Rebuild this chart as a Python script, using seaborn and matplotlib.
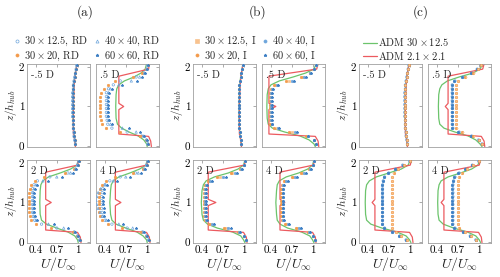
import matplotlib
matplotlib.use("Agg")
import matplotlib.pyplot as plt
import seaborn as sns
from matplotlib.lines import Line2D

sns.set_theme(style="white")
plt.rcParams["mathtext.fontset"] = "cm"
plt.rcParams["font.family"] = ["cmr10", "DejaVu Serif"]
plt.rcParams["axes.formatter.use_mathtext"] = True

# marker heights (z/h_hub), bottom to top
Y21 = [0.05, 0.15, 0.25, 0.35, 0.45, 0.55, 0.65, 0.75, 0.85, 0.95, 1.05,
       1.15, 1.25, 1.35, 1.45, 1.55, 1.65, 1.75, 1.85, 1.95, 2.05]
# line heights
RY = [2.08, 1.95, 1.77, 1.08, 1.00, 0.92, 0.30, 0.24, 0.12, -0.02]
GY = [2.08, 1.95, 1.85, 1.75, 1.65, 1.55, 1.45, 1.30, 1.00, 0.70, 0.55,
      0.45, 0.35, 0.25, 0.15, 0.05, -0.02]

# -.5 D (same in every group)
m05 = [0.97, 0.96, 0.95, 0.95, 0.94, 0.94, 0.94, 0.93, 0.93, 0.93, 0.93,
       0.93, 0.93, 0.93, 0.94, 0.94, 0.95, 0.96, 0.97, 0.98, 0.99]
m05_red = [0.99, 0.98, 0.96, 0.94, 0.94, 0.94, 0.94, 0.95, 0.96, 0.97]
m05_grn = [0.99, 0.98, 0.97, 0.96, 0.95, 0.95, 0.94, 0.94, 0.935, 0.935, 0.94,
           0.94, 0.945, 0.95, 0.96, 0.965, 0.97]

# (a) RD
a_p05_1 = [1.02, 1.00, 0.93, 0.72, 0.50, 0.44, 0.43, 0.42, 0.42, 0.42, 0.42, 0.42, 0.42, 0.42, 0.45, 0.52, 0.62, 0.85, 0.96, 1.00, 1.02]
a_p05_2 = [1.02, 0.99, 0.90, 0.62, 0.42, 0.36, 0.34, 0.33, 0.33, 0.33, 0.33, 0.33, 0.33, 0.34, 0.38, 0.45, 0.55, 0.80, 0.94, 0.99, 1.02]
a_p05_3 = [1.02, 1.00, 0.96, 0.85, 0.65, 0.48, 0.45, 0.44, 0.44, 0.44, 0.44, 0.44, 0.44, 0.45, 0.48, 0.60, 0.78, 0.90, 0.97, 1.00, 1.02]
a_p05_4 = [1.02, 1.01, 0.97, 0.90, 0.75, 0.50, 0.46, 0.45, 0.45, 0.45, 0.45, 0.45, 0.45, 0.46, 0.50, 0.65, 0.86, 0.93, 0.98, 1.00, 1.02]
a_p05_red = [1.04, 1.03, 0.60, 0.60, 0.67, 0.60, 0.60, 1.03, 1.06, 1.07]
a_p05_grn = [1.00, 0.98, 0.92, 0.82, 0.68, 0.60, 0.57, 0.56, 0.555, 0.56, 0.58, 0.64, 0.75, 0.88, 0.96, 1.00, 1.01]

a_2d_1 = [1.03, 1.00, 0.95, 0.70, 0.48, 0.38, 0.36, 0.35, 0.35, 0.35, 0.35, 0.35, 0.35, 0.35, 0.37, 0.42, 0.60, 0.86, 0.97, 1.00, 1.02]
a_2d_2 = [1.03, 0.99, 0.93, 0.62, 0.40, 0.33, 0.31, 0.30, 0.30, 0.30, 0.30, 0.30, 0.30, 0.31, 0.33, 0.38, 0.52, 0.82, 0.95, 1.00, 1.02]
a_2d_3 = [1.03, 1.00, 0.96, 0.80, 0.58, 0.40, 0.37, 0.36, 0.36, 0.36, 0.36, 0.36, 0.36, 0.37, 0.40, 0.50, 0.70, 0.90, 0.97, 1.00, 1.02]
a_2d_4 = [1.03, 1.01, 0.97, 0.86, 0.66, 0.42, 0.38, 0.37, 0.37, 0.37, 0.37, 0.37, 0.37, 0.38, 0.42, 0.58, 0.77, 0.93, 0.98, 1.00, 1.02]
a_2d_red = [1.01, 1.00, 0.54, 0.54, 0.62, 0.54, 0.54, 1.00, 1.04, 1.05]
a_2d_grn = [1.01, 0.99, 0.90, 0.75, 0.58, 0.50, 0.47, 0.46, 0.455, 0.46, 0.48, 0.55, 0.70, 0.86, 0.96, 1.00, 1.01]

a_4d_1 = [1.03, 1.00, 0.94, 0.72, 0.50, 0.40, 0.37, 0.36, 0.35, 0.35, 0.35, 0.35, 0.36, 0.37, 0.40, 0.47, 0.62, 0.84, 0.96, 1.00, 1.02]
a_4d_2 = [1.03, 0.99, 0.92, 0.65, 0.44, 0.36, 0.33, 0.32, 0.32, 0.31, 0.31, 0.32, 0.32, 0.33, 0.36, 0.42, 0.55, 0.80, 0.95, 1.00, 1.02]
a_4d_3 = [1.03, 1.00, 0.95, 0.80, 0.60, 0.42, 0.36, 0.33, 0.30, 0.28, 0.27, 0.28, 0.30, 0.34, 0.40, 0.52, 0.70, 0.88, 0.97, 1.00, 1.02]
a_4d_4 = [1.03, 1.01, 0.97, 0.85, 0.66, 0.44, 0.39, 0.38, 0.38, 0.37, 0.37, 0.37, 0.38, 0.39, 0.43, 0.58, 0.76, 0.92, 0.98, 1.00, 1.02]
a_4d_red = [1.02, 1.00, 0.55, 0.55, 0.63, 0.55, 0.55, 1.00, 1.04, 1.05]
a_4d_grn = [1.01, 0.99, 0.90, 0.76, 0.60, 0.52, 0.49, 0.48, 0.47, 0.48, 0.50, 0.56, 0.70, 0.86, 0.95, 1.00, 1.01]

# (b) I
b_p05_1 = [1.05, 1.02, 0.92, 0.70, 0.48, 0.40, 0.39, 0.39, 0.39, 0.39, 0.39, 0.39, 0.39, 0.39, 0.41, 0.46, 0.66, 0.86, 0.97, 1.02, 1.05]
b_p05_2 = [1.05, 1.02, 0.90, 0.66, 0.45, 0.39, 0.38, 0.38, 0.38, 0.38, 0.38, 0.38, 0.38, 0.38, 0.40, 0.44, 0.62, 0.84, 0.96, 1.02, 1.05]
b_p05_3 = [1.05, 1.02, 0.93, 0.74, 0.50, 0.41, 0.40, 0.40, 0.40, 0.40, 0.40, 0.40, 0.40, 0.40, 0.42, 0.48, 0.70, 0.88, 0.97, 1.02, 1.05]
b_p05_4 = [1.05, 1.02, 0.94, 0.78, 0.52, 0.42, 0.41, 0.41, 0.41, 0.41, 0.41, 0.41, 0.41, 0.41, 0.43, 0.50, 0.73, 0.90, 0.98, 1.02, 1.05]
b_p05_red = [1.08, 1.06, 0.37, 0.37, 0.47, 0.37, 0.37, 1.04, 1.08, 1.09]
b_p05_grn = [1.05, 1.02, 0.90, 0.72, 0.52, 0.40, 0.36, 0.345, 0.34, 0.345, 0.36, 0.42, 0.60, 0.82, 0.95, 1.02, 1.04]

b_2d_1 = [1.03, 1.00, 0.93, 0.75, 0.52, 0.45, 0.44, 0.44, 0.44, 0.44, 0.44, 0.44, 0.44, 0.44, 0.45, 0.50, 0.66, 0.84, 0.96, 1.00, 1.02]
b_2d_2 = [1.03, 1.00, 0.92, 0.72, 0.50, 0.44, 0.43, 0.43, 0.43, 0.43, 0.43, 0.43, 0.43, 0.43, 0.44, 0.48, 0.62, 0.82, 0.95, 1.00, 1.02]
b_2d_3 = [1.03, 1.00, 0.94, 0.78, 0.55, 0.46, 0.45, 0.45, 0.45, 0.45, 0.45, 0.45, 0.45, 0.45, 0.46, 0.52, 0.70, 0.87, 0.97, 1.00, 1.02]
b_2d_4 = [1.03, 1.00, 0.95, 0.82, 0.58, 0.47, 0.46, 0.46, 0.46, 0.46, 0.46, 0.46, 0.46, 0.46, 0.47, 0.55, 0.74, 0.90, 0.98, 1.00, 1.02]
b_2d_red = [1.03, 1.01, 0.49, 0.49, 0.60, 0.49, 0.49, 1.00, 1.04, 1.05]
b_2d_grn = [1.02, 1.00, 0.92, 0.78, 0.58, 0.46, 0.42, 0.40, 0.39, 0.40, 0.42, 0.48, 0.62, 0.84, 0.96, 1.00, 1.02]

b_4d_1 = [1.03, 1.00, 0.94, 0.78, 0.62, 0.57, 0.56, 0.56, 0.56, 0.56, 0.56, 0.56, 0.56, 0.56, 0.57, 0.60, 0.72, 0.86, 0.96, 1.00, 1.02]
b_4d_2 = [1.03, 1.00, 0.93, 0.76, 0.60, 0.56, 0.55, 0.55, 0.55, 0.55, 0.55, 0.55, 0.55, 0.55, 0.56, 0.59, 0.70, 0.84, 0.95, 1.00, 1.02]
b_4d_3 = [1.03, 1.00, 0.95, 0.80, 0.64, 0.58, 0.57, 0.57, 0.57, 0.57, 0.57, 0.57, 0.57, 0.57, 0.58, 0.62, 0.75, 0.88, 0.97, 1.00, 1.02]
b_4d_4 = [1.03, 1.00, 0.96, 0.83, 0.66, 0.59, 0.58, 0.58, 0.58, 0.58, 0.58, 0.58, 0.58, 0.58, 0.59, 0.64, 0.78, 0.90, 0.98, 1.00, 1.02]
b_4d_red = [1.03, 1.01, 0.53, 0.53, 0.60, 0.53, 0.53, 1.00, 1.04, 1.05]
b_4d_grn = [1.02, 1.00, 0.93, 0.80, 0.62, 0.52, 0.49, 0.48, 0.47, 0.48, 0.49, 0.53, 0.64, 0.84, 0.96, 1.00, 1.02]

# (c)
c_p05_1 = [1.05, 1.00, 0.90, 0.72, 0.63, 0.62, 0.62, 0.62, 0.62, 0.62, 0.62, 0.62, 0.62, 0.62, 0.62, 0.62, 0.66, 0.78, 0.90, 0.98, 1.04]
c_p05_2 = [1.05, 1.00, 0.89, 0.70, 0.62, 0.61, 0.61, 0.61, 0.61, 0.61, 0.61, 0.61, 0.61, 0.61, 0.61, 0.61, 0.65, 0.76, 0.89, 0.98, 1.04]
c_p05_3 = [1.05, 1.01, 0.92, 0.76, 0.68, 0.67, 0.67, 0.67, 0.67, 0.67, 0.67, 0.67, 0.67, 0.67, 0.67, 0.67, 0.70, 0.80, 0.92, 0.99, 1.04]
c_p05_4 = [1.05, 1.01, 0.93, 0.78, 0.69, 0.68, 0.68, 0.68, 0.68, 0.68, 0.68, 0.68, 0.68, 0.68, 0.68, 0.68, 0.71, 0.82, 0.93, 0.99, 1.04]
c_p05_red = [1.08, 1.06, 0.56, 0.56, 0.52, 0.56, 0.56, 1.04, 1.08, 1.09]
c_p05_grn = [1.06, 1.02, 0.92, 0.72, 0.55, 0.47, 0.44, 0.425, 0.42, 0.425, 0.44, 0.50, 0.66, 0.85, 0.96, 1.02, 1.05]

c_2d_1 = [0.95, 0.86, 0.76, 0.64, 0.61, 0.61, 0.61, 0.61, 0.61, 0.61, 0.61, 0.61, 0.61, 0.61, 0.61, 0.62, 0.64, 0.70, 0.80, 0.90, 1.00]
c_2d_2 = [0.95, 0.85, 0.75, 0.63, 0.60, 0.60, 0.60, 0.60, 0.60, 0.60, 0.60, 0.60, 0.60, 0.60, 0.60, 0.61, 0.63, 0.69, 0.79, 0.90, 1.00]
c_2d_3 = [0.96, 0.88, 0.80, 0.75, 0.75, 0.75, 0.75, 0.75, 0.75, 0.75, 0.75, 0.75, 0.75, 0.75, 0.75, 0.75, 0.75, 0.77, 0.84, 0.92, 1.00]
c_2d_4 = [0.96, 0.88, 0.80, 0.74, 0.74, 0.74, 0.74, 0.74, 0.74, 0.74, 0.74, 0.74, 0.74, 0.74, 0.74, 0.74, 0.74, 0.76, 0.83, 0.92, 1.00]
c_2d_red = [1.03, 1.01, 0.50, 0.50, 0.46, 0.50, 0.50, 1.00, 1.04, 1.05]
c_2d_grn = [1.01, 0.98, 0.88, 0.70, 0.52, 0.42, 0.38, 0.365, 0.36, 0.365, 0.38, 0.44, 0.60, 0.82, 0.95, 1.00, 1.02]

c_4d_1 = [0.96, 0.88, 0.78, 0.66, 0.63, 0.63, 0.63, 0.63, 0.63, 0.63, 0.63, 0.63, 0.63, 0.63, 0.63, 0.64, 0.66, 0.72, 0.82, 0.91, 1.00]
c_4d_2 = [0.96, 0.87, 0.77, 0.65, 0.62, 0.62, 0.62, 0.62, 0.62, 0.62, 0.62, 0.62, 0.62, 0.62, 0.62, 0.63, 0.65, 0.71, 0.81, 0.91, 1.00]
c_4d_3 = [0.97, 0.89, 0.80, 0.72, 0.71, 0.71, 0.71, 0.71, 0.71, 0.71, 0.71, 0.71, 0.71, 0.71, 0.71, 0.71, 0.72, 0.76, 0.84, 0.92, 1.00]
c_4d_4 = [0.97, 0.89, 0.80, 0.71, 0.70, 0.70, 0.70, 0.70, 0.70, 0.70, 0.70, 0.70, 0.70, 0.70, 0.70, 0.70, 0.71, 0.75, 0.83, 0.92, 1.00]
c_4d_red = [1.03, 1.01, 0.50, 0.50, 0.46, 0.50, 0.50, 1.00, 1.04, 1.05]
c_4d_grn = [1.02, 0.99, 0.90, 0.74, 0.56, 0.46, 0.43, 0.415, 0.41, 0.415, 0.43, 0.49, 0.64, 0.84, 0.96, 1.01, 1.03]

pos_labels = ["-.5 D", ".5 D", "2 D", "4 D"]
groups = {
    "a": [([m05] * 4, m05_red, m05_grn),
          ([a_p05_1, a_p05_2, a_p05_3, a_p05_4], a_p05_red, a_p05_grn),
          ([a_2d_1, a_2d_2, a_2d_3, a_2d_4], a_2d_red, a_2d_grn),
          ([a_4d_1, a_4d_2, a_4d_3, a_4d_4], a_4d_red, a_4d_grn)],
    "b": [([m05] * 4, m05_red, m05_grn),
          ([b_p05_1, b_p05_2, b_p05_3, b_p05_4], b_p05_red, b_p05_grn),
          ([b_2d_1, b_2d_2, b_2d_3, b_2d_4], b_2d_red, b_2d_grn),
          ([b_4d_1, b_4d_2, b_4d_3, b_4d_4], b_4d_red, b_4d_grn)],
    "c": [([m05] * 4, m05_red, m05_grn),
          ([c_p05_1, c_p05_2, c_p05_3, c_p05_4], c_p05_red, c_p05_grn),
          ([c_2d_1, c_2d_2, c_2d_3, c_2d_4], c_2d_red, c_2d_grn),
          ([c_4d_1, c_4d_2, c_4d_3, c_4d_4], c_4d_red, c_4d_grn)],
}

BLUE_L = "#6fa6dc"
BLUE = "#3d7fc4"
ORNG = "#f39b4b"
ORNG_L = "#f8c28e"
GREEN = "#6cc46c"
RED = "#ec5a5f"

styles = {
    "a": [dict(marker="o", fc="none", ec=BLUE_L), dict(marker="o", fc=ORNG, ec=ORNG),
          dict(marker="^", fc="none", ec=BLUE_L), dict(marker="*", fc=BLUE, ec=BLUE)],
    "b": [dict(marker="s", fc=ORNG_L, ec=ORNG_L), dict(marker="o", fc=ORNG, ec=ORNG),
          dict(marker="o", fc=BLUE_L, ec=BLUE_L), dict(marker="*", fc=BLUE, ec=BLUE)],
    "c": [dict(marker="o", fc="none", ec=BLUE_L), dict(marker="o", fc=BLUE, ec=BLUE),
          dict(marker="o", fc=ORNG, ec=ORNG), dict(marker="+", fc=ORNG_L, ec=ORNG_L)],
}

fig = plt.figure(figsize=(5.0, 2.77), dpi=100)
W, H = 500.0, 277.0
group_x = {"a": 27, "b": 193, "c": 359}
pw, ph = 63, 83
rows_top = [64, 160]

for g, panels in groups.items():
    for k, (series, red, grn) in enumerate(panels):
        r, col = divmod(k, 2)
        x0 = group_x[g] + col * 69
        y0 = rows_top[r]
        ax = fig.add_axes([x0 / W, 1 - (y0 + ph) / H, pw / W, ph / H])
        sns.lineplot(x=grn, y=GY, sort=False, estimator=None, color=GREEN, lw=0.9, ax=ax)
        sns.lineplot(x=red, y=RY, sort=False, estimator=None, color=RED, lw=0.9, ax=ax)
        for s, st in zip(series, styles[g]):
            sns.scatterplot(x=s, y=Y21, marker=st["marker"], s=3, facecolors=st["fc"],
                            edgecolors=st["ec"], linewidths=0.5, ax=ax, zorder=3)
        ax.set_xlim(0.27, 1.18)
        ax.set_ylim(-0.03, 2.08)
        ax.set_xticks([0.4, 0.7, 1.0])
        ax.set_yticks([0, 1, 2])
        ax.tick_params(direction="in", length=2, width=0.5, top=True, right=True,
                       colors="#888888", labelcolor="black", labelsize=8, pad=2)
        for sp in ax.spines.values():
            sp.set_color("#a0a0a0")
            sp.set_linewidth(0.6)
        if r == 1:
            ax.set_xticklabels(["0.4", "0.7", "1"])
            ax.set_xlabel(r"$U/U_\infty$", fontsize=10, labelpad=0)
        else:
            ax.set_xticklabels([])
        if col == 0:
            ax.set_yticklabels(["0", "1", "2"])
            ax.set_ylabel(r"$z/h_{hub}$", fontsize=8, labelpad=0)
        else:
            ax.set_yticklabels([])
        ax.text(0.07, 0.92, pos_labels[k], transform=ax.transAxes, fontsize=7.5,
                va="top", ha="left")

for g, xc in [("a", 85), ("b", 258), ("c", 421)]:
    fig.text(xc / W, 1 - 12 / H, "(" + g + ")", ha="center", va="center", fontsize=9.5)

def handles(g, labels):
    hs = []
    for st, lab in zip(styles[g], labels):
        hs.append(Line2D([], [], ls="none", marker=st["marker"], ms=2.2, mfc=st["fc"],
                         mec=st["ec"], mew=0.5, label=lab))
    return hs

la = [r"$30\times12.5$, RD", r"$30\times20$, RD", r"$40\times40$, RD", r"$60\times60$, RD"]
lb = [r"$30\times12.5$, I", r"$30\times20$, I", r"$40\times40$, I", r"$60\times60$, I"]
for g, labs, xc in [("a", la, 87), ("b", lb, 255)]:
    fig.legend(handles=handles(g, labs), ncol=2, loc="center",
               bbox_to_anchor=(xc / W, 1 - 49 / H), frameon=False, fontsize=7.5,
               handlelength=0.6, handletextpad=0.4, columnspacing=0.5, labelspacing=0.1,
               borderpad=0)
lc = [Line2D([], [], color=GREEN, lw=0.9, label=r"ADM $30\times12.5$"),
      Line2D([], [], color=RED, lw=0.9, label=r"ADM $2.1\times2.1$")]
fig.legend(handles=lc, loc="center left", bbox_to_anchor=(358 / W, 1 - 49 / H),
           frameon=False, fontsize=7.5, handlelength=1.3, handletextpad=0.1,
           labelspacing=0.1, borderpad=0)

fig.savefig("out.png", dpi=100)
